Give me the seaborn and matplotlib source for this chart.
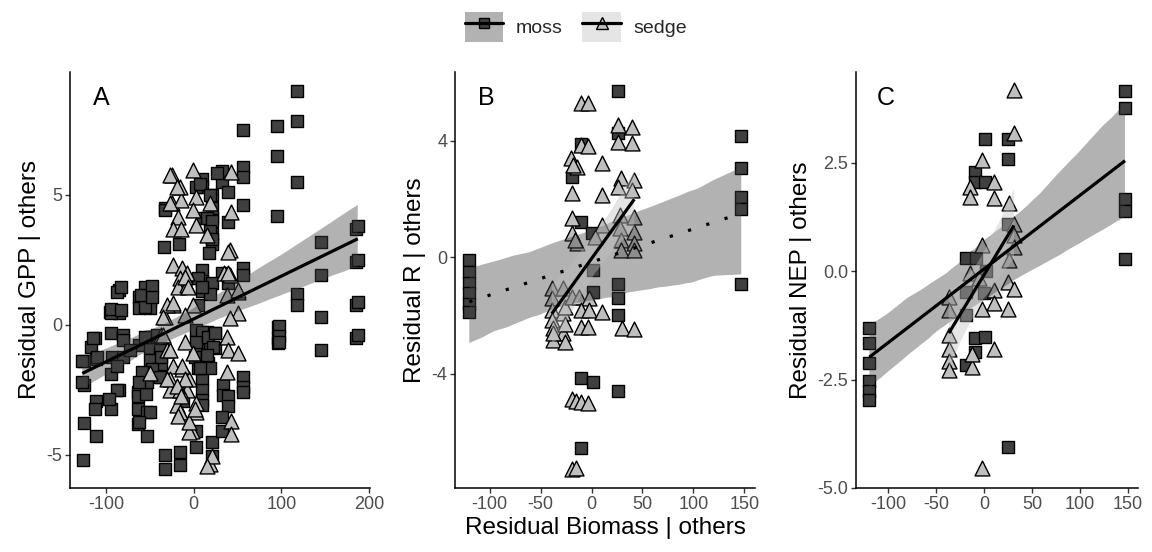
import matplotlib
matplotlib.use("Agg")
import matplotlib.pyplot as plt
import seaborn as sns
import numpy as np
import pandas as pd
from matplotlib.patches import Patch
from matplotlib.lines import Line2D
from matplotlib.legend_handler import HandlerTuple

# ---------------- data ----------------
a_moss_x = [118, 118, 95, 56, 95, 118, 95, 56, 56, 32, 32, 39, 10, 10, 3, 21, 56, -33, 21, 39,
            10, -34, -17, 21, 21, 17, 145, 185, 185, 145, 118, 118, 185, 145, 56, 56, 32, 39, 9, 9,
            21, 9, 18, -85, -62, -50, -50, -62, -50, -96, -85, 185, 145, 96, 96, 96, -112, -117, -94, -81,
            -81, -62, -50, -50, -125, -111, -125, -94, -85, -111, -94, -125, -111, -126, -64, -64, -54, -53, -64, -53,
            -64, -53, -48, -37, -37, -33, -16, -16, -33, 3, 3, 21, 21, 10, 10, 10, 10, 16, 5, 33,
            33, 39, 39, 32, 32, 56, 56, 56, -12, 24, 24, 15, 15, 5, 5, 1, -48, 7, 18, 21,
            15, 21, 18, 21, 27, -33, 5, 10, 5, -87, -56, -56, -94, -115, -110, -127, -127, -93, -81, -88,
            -73, -56, -42, -39, -50, -37, -48, -39, -59, -62, -87, -50, -62, -97, -112, 3, 9, 3, 16, 24,
            22, 15, 18, 7, 187, 187, 187, 187, 97, 97, 97, -83, -60, -48, -48, -94, -83]
a_moss_y = [9.0, 7.85, 7.66, 7.5, 6.5, 5.5, 4.2, 6.05, 5.7, 5.9, 5.5, 5.1, 5.6, 5.3, 5.3, 5.0, 4.6, 4.5, 4.1, 3.95,
            4.1, 3.0, 3.1, 3.5, 3.1, 2.75, 3.2, 3.7, 2.4, 1.9, 1.2, 0.77, 0.77, 0.3, 2.2, 1.9, 2.0, 1.6, 2.1, 1.7,
            1.6, 1.3, 1.2, 1.35, 1.07, 1.4, 0.96, 0.65, 0.65, 0.5, 0.46, -0.5, -0.96, -0.1, -0.5, -0.7, -0.5, -0.84, -0.3, -0.4,
            -0.6, -0.77, -0.46, -0.88, -1.4, -1.3, -2.3, -1.9, -2.5, -2.95, -3.26, -3.8, -4.3, -5.2, -2.57, -2.76, -2.68, -2.2, -3.26, -3.37,
            -3.83, -4.3, -1.4, -1.5, -2.0, -5.0, -4.9, -5.4, -5.55, -4.1, -4.7, -4.5, -5.05, -2.1, -2.5, -2.9, -3.1, -1.46, -1.65, -2.3,
            -2.7, -2.76, -3.14, -3.56, -4.1, -2.0, -2.4, -2.6, -2.95, -0.3, -0.9, -0.27, -0.7, -0.57, -0.96, -1.26, -0.46, 5.4, 5.0, 4.5,
            4.1, 4.0, 3.6, 3.3, 5.85, 4.4, 1.8, 1.45, 0.77, 1.26, 1.46, 0.69, 0.46, -0.5, -1.26, -1.4, -2.2, -1.23, -1.23, -1.6,
            -0.96, -0.46, -0.38, -0.96, -1.34, -1.26, -1.72, -2.0, -1.8, -2.2, -2.5, -3.37, -3.75, -2.87, -3.26, -0.2, -0.27, -0.65, -0.46, -0.3,
            -0.84, -1.15, -1.65, -1.65, 3.8, 2.5, 0.87, -0.4, -0.05, -0.45, -0.65, 1.45, 1.15, 1.5, 1.05, 0.6, 0.55]
a_sedge_x = [-25, -1, 43, -16, 3, -25, -14, -1, 18, 43, -18, -24, -14, 3, 15, 41, -24, -13, -8, -16,
             35, 41, -18, -8, 50, 38, -24, -1, -33, -10, 50, 41, -37, 38, -31, -10, -1, 39, 50, -24,
             -13, -27, -5, 38, -27, -8, -19, 3, -14, 3, 43, -2, 43, 18, 21, -27, -19, -27, -31, -35,
             -35, -27, -50, -30, -16, -16, -5, 15, 39, 39, 50, -10, -7, -24, -13, -10, -19, -14, -18, -5, 1]
a_sedge_y = [5.75, 5.94, 5.86, 5.3, 4.9, 4.67, 4.8, 4.4, 4.67, 4.33, 4.14, 3.7, 3.7, 3.83, 3.45, 2.87, 2.3, 2.18, 2.0, 1.8,
             2.0, 1.9, 1.46, 1.53, 1.26, 1.15, 0.77, 0.77, 0.3, 0.38, 0.46, 0.27, -0.38, -0.46, -0.96, -0.65, -1.07, -0.96, -1.07, -1.6,
             -1.72, -2.1, -2.1, -1.8, -2.5, -2.5, -3.07, -3.0, -3.45, -3.37, -3.72, -4.1, -4.2, -5.36, -5.05, 5.75, 5.3, 4.67, 0.77, 0.3,
             -0.38, -0.96, -1.84, -2.1, -2.5, -3.37, -4.14, -5.44, 2.8, 2.0, 1.34, 1.84, 1.46, 0.84, -1.6, -2.1, -2.37, -2.76, -3.5, -3.75, -3.26]

b_moss_x = [-120, -120, -120, -120, -120, -120, 147, 147, 147, 147, 147,
            25.5, 25.5, -19.6, -10, -10, 0, 1, 1, 25.5, 25.5, 25.5, -10, 1, 25.5, -10]
b_moss_y = [-0.1, -0.5, -0.9, -1.24, -1.6, -1.9, 4.17, 3.07, 2.07, 1.65, -0.93,
            5.72, 4.28, 2.76, 3.9, 1.2, 0.83, -0.45, -1.2, -0.93, -1.41, -2.0, -4.14, -4.28, -4.59, -6.55]
b_sedge_x = [-10, -3, 25.5, 40, 25.5, 40, -10, -3, -20.6, -14.7, -18.6, 10, 29, 42, 25.5, 40, -19.6, 10,
             -19.6, -19.6, -14.7, -16.7, 10, 27.5, 42, 27.5, 42, 29, 42, 29, 42, 3,
             -39, -28, -39, -39, -28, -39, -38, -28, -38, -26, -38, -26, -26,
             -19.6, -12, -2, -10, -2, 10, -10, -3, 30, 42, -19.6, -15, -10, -3, -19.6, -15]
b_sedge_y = [5.3, 5.28, 4.55, 4.48, 3.97, 3.93, 3.86, 3.83, 3.41, 3.1, 3.17, 3.24, 2.72, 2.65, 2.41, 2.31, 2.2, 2.14,
             1.34, 0.83, 0.48, 0.59, 1.1, 1.45, 1.38, 1.0, 0.86, 0.59, 0.48, 0.24, 0.24, 0.69,
             -1.07, -1.07, -1.41, -1.83, -1.93, -2.17, -2.45, -2.62, -2.86, -2.93, -2.59, -1.72, -2.28,
             -1.38, -1.38, -1.41, -1.83, -1.83, -1.9, -2.41, -2.41, -2.45, -2.48, -4.86, -4.93, -4.97, -5.0, -7.28, -7.24]

c_moss_x = [147, 147, 147, 147, 147, -120, -120, -120, -120, -120, -120,
            1, 25, 25, -10, -10, 1, -19, -9, 25, 2, -19, 0, -10, 1, -10, -19, 25, -19]
c_moss_y = [4.15, 3.76, 1.66, 1.38, 0.28, -1.31, -1.66, -2.12, -2.53, -2.76, -2.97,
            3.04, 3.06, 2.58, 2.28, 2.05, 2.05, 0.3, 0.3, 1.08, 0.0, -1.0, -0.5, -1.54, -1.52, -1.87, -2.17, -4.06, -0.48]
c_sedge_x = [31, 31, -2, -15, -15, 10, 10, 26, 31, 31, 31, 26, -2, -15, -5, 25, 31, 10, 10, -2, 25,
             -37, -37, -37, -37, -37, -37, -13, -13, 10, -2]
c_sedge_y = [4.17, 3.18, 2.56, 1.94, 1.7, 2.05, 1.68, 1.57, 1.08, 0.83, 0.55, 0.25, 0.6, -0.05, -0.16, -0.25, -0.41, -0.44, -0.74, -0.88, -0.88,
             -0.6, -0.9, -1.47, -1.8, -2.07, -2.28, -2.2, -1.9, -1.8, -4.54]

groups = ["moss", "sedge"]
panel_letters = ["A", "B", "C"]
y_labels = ["Residual GPP | others", "Residual R | others", "Residual NEP | others"]
x_label = "Residual Biomass | others"

# ---------------- styling ----------------
sns.set_theme(style="ticks")
plt.rcParams["font.family"] = ["Liberation Sans", "DejaVu Sans"]
plt.rcParams["axes.unicode_minus"] = False

MOSS_FILL = "#404040"
SEDGE_FILL = "#bfbfbf"
TICK_COL = "#4d4d4d"

fig = plt.figure(figsize=(11.52, 5.52), dpi=100)
positions = [[0.0608, 0.116, 0.2604, 0.754],
             [0.395, 0.116, 0.2604, 0.754],
             [0.743, 0.116, 0.2448, 0.754]]
axes = [fig.add_axes(p) for p in positions]

panels = [
    dict(mx=a_moss_x, my=a_moss_y, sx=a_sedge_x, sy=a_sedge_y,
         xlim=(-141, 201), ylim=(-6.28, 9.73), xticks=[-100, 0, 100, 200], yticks=[-5, 0, 5],
         yfmt="{:.0f}", fits={"moss": "-"}),
    dict(mx=b_moss_x, my=b_moss_y, sx=b_sedge_x, sy=b_sedge_y,
         xlim=(-134, 160.5), ylim=(-7.93, 6.37), xticks=[-100, -50, 0, 50, 100, 150], yticks=[-4, 0, 4],
         yfmt="{:.0f}", fits={"moss": (0, (1, 5)), "sedge": "-"}),
    dict(mx=c_moss_x, my=c_moss_y, sx=c_sedge_x, sy=c_sedge_y,
         xlim=(-134, 160.5), ylim=(-5.0, 4.6), xticks=[-100, -50, 0, 50, 100, 150], yticks=[-5.0, -2.5, 0.0, 2.5],
         yfmt="{:.1f}", fits={"moss": "-", "sedge": "-"}),
]

for i, (ax, p) in enumerate(zip(axes, panels)):
    moss = pd.DataFrame({"x": p["mx"], "y": p["my"]})
    sedge = pd.DataFrame({"x": p["sx"], "y": p["sy"]})
    sns.scatterplot(data=moss, x="x", y="y", marker="s", s=64, color=MOSS_FILL,
                    edgecolor="black", linewidth=1.0, ax=ax, legend=False)
    sns.scatterplot(data=sedge, x="x", y="y", marker="^", s=115, color=SEDGE_FILL,
                    edgecolor="black", linewidth=1.0, ax=ax, legend=False)
    for g, df, fill in (("moss", moss, MOSS_FILL), ("sedge", sedge, SEDGE_FILL)):
        if g not in p["fits"]:
            continue
        n_before = len(ax.collections)
        sns.regplot(data=df, x="x", y="y", scatter=False, ci=95, n_boot=500, seed=1,
                    color="black", ax=ax, truncate=True,
                    line_kws=dict(lw=2.3, linestyle=p["fits"][g], solid_capstyle="butt"))
        for coll in ax.collections[n_before:]:
            coll.set_facecolor(fill)
            coll.set_alpha(0.4)
            coll.set_edgecolor("none")

    ax.set_xlim(*p["xlim"])
    ax.set_ylim(*p["ylim"])
    ax.set_xticks(p["xticks"])
    ax.set_xticklabels([str(t) for t in p["xticks"]])
    ax.set_yticks(p["yticks"])
    ax.set_yticklabels([p["yfmt"].format(t) for t in p["yticks"]])
    for side in ("top", "right"):
        ax.spines[side].set_visible(False)
    for side in ("left", "bottom"):
        ax.spines[side].set_color("black")
        ax.spines[side].set_linewidth(1.1)
    ax.tick_params(axis="both", colors="#333333", length=3.5, width=1.0,
                   labelsize=13, labelcolor=TICK_COL, pad=2)
    ax.set_ylabel(y_labels[i], fontsize=17.5, color="black", labelpad=4)
    ax.set_xlabel(x_label if i == 1 else "", fontsize=17.5, color="black", labelpad=3)
    ax.text(0.075, 0.965, panel_letters[i], transform=ax.transAxes, fontsize=18,
            ha="left", va="top", color="black")

# legend
handles = []
for g, fill, mk, ms in (("moss", MOSS_FILL, "s", 7), ("sedge", SEDGE_FILL, "^", 9)):
    bg = Patch(facecolor=fill, alpha=0.4, edgecolor="none")
    pt = Line2D([], [], linestyle="none", marker=mk, markersize=ms, markerfacecolor=fill,
                markeredgecolor="black", markeredgewidth=1.0)
    ln = Line2D([], [], color="black", lw=2.3)
    handles.append((bg, pt, ln))
fig.legend(handles, groups, handler_map={tuple: HandlerTuple(ndivide=1, pad=0)},
           loc="center", bbox_to_anchor=(0.5, 0.951), ncol=2, frameon=False,
           fontsize=14, handlelength=2.0, handleheight=2.0, handletextpad=0.65,
           columnspacing=1.0, borderaxespad=0)

fig.savefig("out.png", dpi=100)
